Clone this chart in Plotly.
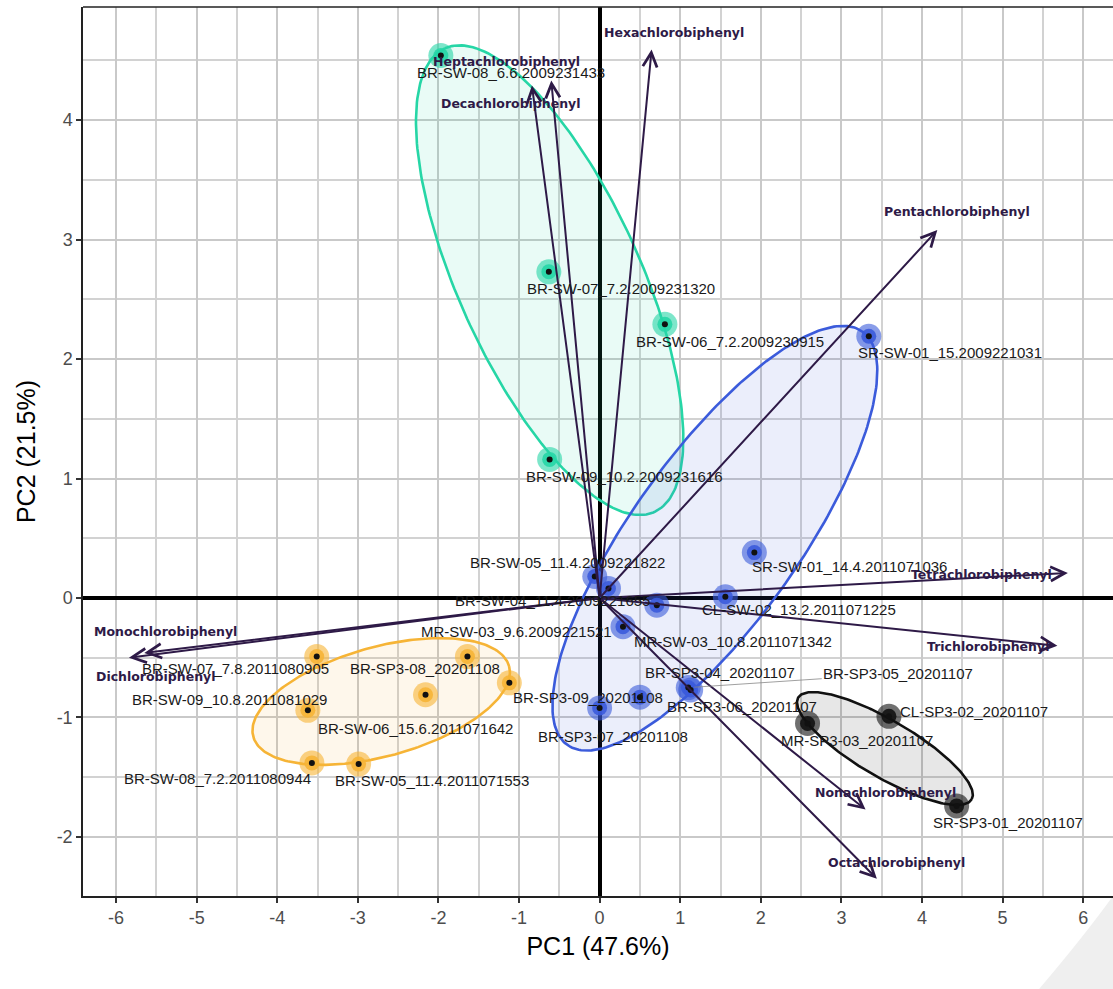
import numpy as np
import plotly.graph_objects as go

# ---- sample scores (PC1, PC2) ----
teal_names = ["BR-SW-08_6.6.2009231433", "BR-SW-07_7.2.2009231320",
              "BR-SW-06_7.2.2009230915", "BR-SW-09_10.2.2009231616"]
teal_pc1 = [-1.97, -0.63, 0.81, -0.62]
teal_pc2 = [4.54, 2.73, 2.29, 1.16]

blue_names = ["SR-SW-01_15.2009221031", "SR-SW-01_14.4.2011071036",
              "BR-SW-05_11.4.2009221822", "BR-SW-04_11.4.2009221655",
              "MR-SW-03_9.6.2009221521", "MR-SW-03_10.8.2011071342",
              "CL-SW-02_13.2.2011071225", "BR-SP3-04_20201107",
              "BR-SP3-05_20201107", "BR-SP3-06_20201107", "BR-SP3-07_20201108"]
blue_pc1 = [3.34, 1.92, -0.06, 0.11, 0.29, 0.71, 1.56, 1.13, 1.10, 0.50, 0.00]
blue_pc2 = [2.19, 0.38, 0.18, 0.08, -0.24, -0.06, 0.01, -0.77, -0.75, -0.83, -0.92]

orange_names = ["BR-SW-07_7.8.2011080905", "BR-SP3-08_20201108",
                "BR-SP3-09_20201108", "BR-SW-09_10.8.2011081029",
                "BR-SW-06_15.6.2011071642", "BR-SW-08_7.2.2011080944",
                "BR-SW-05_11.4.2011071553"]
orange_pc1 = [-3.51, -1.64, -1.12, -3.62, -2.16, -3.57, -2.99]
orange_pc2 = [-0.49, -0.49, -0.71, -0.94, -0.81, -1.38, -1.39]

black_names = ["MR-SP3-03_20201107", "CL-SP3-02_20201107", "SR-SP3-01_20201107"]
black_pc1 = [2.58, 3.59, 4.43]
black_pc2 = [-1.05, -0.99, -1.74]

# ---- group ellipses: centre, major and minor half-axis vectors (PC units) ----
teal_ell = dict(center=(-0.62, 2.66), u=(-1.30, 1.94), v=(1.03, 0.314))
blue_ell = dict(center=(1.43, 0.50), u=(1.83, 1.73), v=(0.845, -0.407))
orange_ell = dict(center=(-2.71, -0.866), u=(1.587, 0.295), v=(0.180, -0.441))
black_ell = dict(center=(3.54, -1.26), u=(1.076, -0.426), v=(0.179, 0.205))

# ---- variable loadings ----
var_names = ["Hexachlorobiphenyl", "Heptachlorobiphenyl", "Decachlorobiphenyl",
             "Pentachlorobiphenyl", "Tetrachlorobiphenyl", "Trichlorobiphenyl",
             "Monochlorobiphenyl", "Dichlorobiphenyl", "Nonachlorobiphenyl",
             "Octachlorobiphenyl"]
var_pc1 = [0.645, -0.60, -0.84, 4.19, 5.81, 5.68, -5.65, -5.84, 3.30, 3.44]
var_pc2 = [4.59, 4.33, 4.29, 3.08, 0.21, -0.40, -0.46, -0.50, -1.77, -2.35]

x_ticks = [-6, -5, -4, -3, -2, -1, 0, 1, 2, 3, 4, 5, 6]
y_ticks = [-2, -1, 0, 1, 2, 3, 4]

# label offsets in pixels (dx right, dy down) for sample names
teal_off = [(70, 17), (72, 17), (65, 17), (75, 17)]
blue_off = [(81, 16), (95, 14), (-27, -14), (-56, 12), (-106, 5), (76, 36),
            (74, 13), (29, -18), (210, -14), (102, 9), (13, 29)]
orange_off = [(-81, 12), (-42, 12), (79, 15), (-78, -11), (-10, 34), (-94, 16), (73, 16)]
black_off = [(49, 17), (85, -5), (51, 17)]
var_off = [(22, -17), (-45, -19), (-21, 18), (20, -18), (-86, 2), (-69, 1),
           (21, -21), (27, 19), (20, -17), (20, -16)]

groups = [
    (teal_names, teal_pc1, teal_pc2, teal_ell, teal_off, (38, 214, 166)),
    (blue_names, blue_pc1, blue_pc2, blue_ell, blue_off, (59, 91, 219)),
    (orange_names, orange_pc1, orange_pc2, orange_ell, orange_off, (246, 180, 54)),
    (black_names, black_pc1, black_pc2, black_ell, black_off, (17, 17, 17)),
]

ARROW = "#2e1a47"
LABEL_FONT = dict(family="Liberation Sans, Arial", size=15, color="#1a1a1a")

fig = go.Figure()

t = np.linspace(0, 2 * np.pi, 240)
for names, px, py, ell, off, rgb in groups:
    cx, cy = ell["center"]
    ux, uy = ell["u"]
    vx, vy = ell["v"]
    ex = cx + ux * np.cos(t) + vx * np.sin(t)
    ey = cy + uy * np.cos(t) + vy * np.sin(t)
    fig.add_trace(go.Scatter(
        x=ex, y=ey, mode="lines", fill="toself",
        fillcolor=f"rgba({rgb[0]},{rgb[1]},{rgb[2]},0.1)",
        line=dict(color=f"rgb({rgb[0]},{rgb[1]},{rgb[2]})", width=2.6),
        hoverinfo="skip", showlegend=False))

for names, px, py, ell, off, rgb in groups:
    col = f"rgb({rgb[0]},{rgb[1]},{rgb[2]})"
    fig.add_trace(go.Scatter(x=px, y=py, mode="markers",
                             marker=dict(size=25, color=col, opacity=0.6, line=dict(width=0)),
                             showlegend=False, hoverinfo="skip"))
    fig.add_trace(go.Scatter(x=px, y=py, mode="markers",
                             marker=dict(size=15, color=col, opacity=0.9, line=dict(width=0)),
                             showlegend=False, hoverinfo="skip"))
    fig.add_trace(go.Scatter(x=px, y=py, mode="markers",
                             marker=dict(size=6, color="#111111", line=dict(width=0)),
                             text=names, showlegend=False, hoverinfo="text"))

annotations = []
# loading arrows from the origin
for name, vx, vy in zip(var_names, var_pc1, var_pc2):
    annotations.append(dict(
        x=vx, y=vy, ax=0, ay=0, xref="x", yref="y", axref="x", ayref="y",
        text="", showarrow=True, arrowhead=5, arrowsize=1.4, arrowwidth=2,
        arrowcolor=ARROW, standoff=0, startstandoff=0))

# sample labels
for names, px, py, ell, off, rgb in groups:
    for n, x, y, (dx, dy) in zip(names, px, py, off):
        if n == "BR-SP3-05_20201107":
            annotations.append(dict(
                x=x, y=y, xref="x", yref="y", text=n, showarrow=True,
                ax=dx, ay=dy, arrowhead=0, arrowwidth=0.8, arrowcolor="#888888",
                standoff=6, font=LABEL_FONT))
        else:
            annotations.append(dict(
                x=x, y=y, xref="x", yref="y", text=n, showarrow=False,
                xshift=dx, yshift=-dy, font=LABEL_FONT))

# loading labels
for name, vx, vy, (dx, dy) in zip(var_names, var_pc1, var_pc2, var_off):
    annotations.append(dict(
        x=vx, y=vy, xref="x", yref="y", text=name, showarrow=False,
        xshift=dx, yshift=-dy,
        font=dict(family="DejaVu Sans", size=12.5, color=ARROW, weight="bold")))

axis_common = dict(
    showgrid=True, gridcolor="#c9c9c9", gridwidth=2,
    minor=dict(dtick=0.5, showgrid=True, gridcolor="#d2d2d2", gridwidth=1.6),
    zeroline=True, zerolinecolor="#000000", zerolinewidth=4,
    showline=True, linecolor="#222222", linewidth=1.5,
    ticks="outside", ticklen=5, tickwidth=1.5, tickcolor="#333333",
    tickfont=dict(family="Liberation Sans, Arial", size=18, color="#4d4d4d"),
)
title_font = dict(family="Liberation Sans, Arial", size=25, color="#000000")

fig.update_layout(
    width=1113, height=989,
    margin=dict(l=83, r=0, t=7, b=93),
    plot_bgcolor="white", paper_bgcolor="white",
    xaxis=dict(range=[-6.41, 6.37], tickvals=x_ticks, ticktext=[str(v) for v in x_ticks],
               **axis_common,
               title=dict(text="PC1 (47.6%)", standoff=10, font=title_font)),
    yaxis=dict(range=[-2.494, 4.946], tickvals=y_ticks, ticktext=[str(v) for v in y_ticks],
               **axis_common,
               title=dict(text="PC2 (21.5%)", standoff=14, font=title_font)),
    annotations=annotations,
    shapes=[
        dict(type="line", xref="paper", yref="paper", x0=0, x1=1, y0=1, y1=1,
             line=dict(color="#222222", width=1.5)),
        dict(type="path", xref="paper", yref="paper",
             path="M 0.928,-0.105 Q 0.972,-0.045 1.0,0.0 L 1.0,-0.105 Z",
             fillcolor="#efefef", line=dict(width=0), layer="below"),
    ],
)

fig.write_html("out.html")
